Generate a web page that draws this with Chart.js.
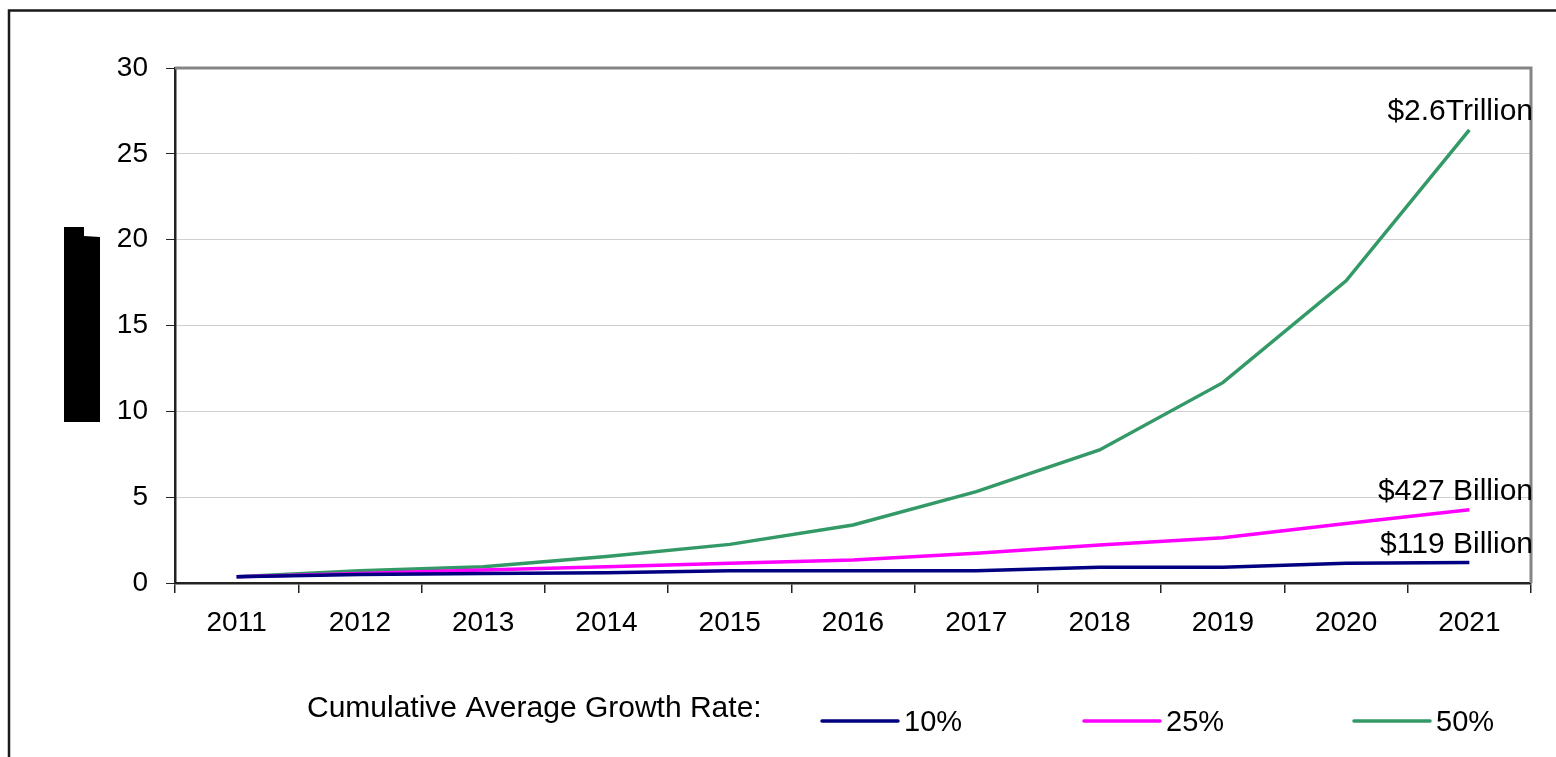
<!DOCTYPE html>
<html>
<head>
<meta charset="utf-8">
<title>Cumulative Average Growth Rate</title>
<script src="https://cdn.jsdelivr.net/npm/chart.js@4/dist/chart.umd.min.js"></script>
<style>
  html, body { margin: 0; padding: 0; background: #ffffff; }
  canvas { display: block; }
</style>
</head>
<body>
<canvas id="growthChart" width="1556" height="757"></canvas>
<script>
const years = ['2011', '2012', '2013', '2014', '2015', '2016', '2017', '2018', '2019', '2020', '2021'];
const yTicks = [0, 5, 10, 15, 20, 25, 30];

const rateLabels = ['10%', '25%', '50%'];
const rate10 = [0.37, 0.5, 0.56, 0.6, 0.72, 0.72, 0.72, 0.92, 0.92, 1.15, 1.19];
const rate25 = [0.37, 0.56, 0.76, 0.95, 1.15, 1.34, 1.73, 2.22, 2.64, 3.46, 4.27];
const rate50 = [0.37, 0.72, 0.95, 1.55, 2.25, 3.38, 5.32, 7.75, 11.67, 17.6, 26.4];
const endLabels = ['$119 Billion', '$427 Billion', '$2.6Trillion'];
const legendTitle = 'Cumulative Average Growth Rate:';

const lineColors = ['#000080', '#ff00ff', '#339966'];
const FONT = '"Liberation Sans", Arial, sans-serif';

// frame, background and the dark block left of the y axis
const backdrop = {
    id: 'backdrop',
    beforeDraw(chart) {
        const ctx = chart.ctx;
        ctx.save();
        ctx.fillStyle = '#ffffff';
        ctx.fillRect(0, 0, chart.width, chart.height);

        ctx.strokeStyle = '#1a1a1a';
        ctx.lineWidth = 2.5;
        ctx.beginPath();
        ctx.moveTo(9, chart.height);
        ctx.lineTo(9, 10.5);
        ctx.lineTo(chart.width, 10.5);
        ctx.stroke();

        ctx.fillStyle = '#000000';
        ctx.beginPath();
        ctx.moveTo(64, 227);
        ctx.lineTo(84, 227);
        ctx.lineTo(84, 236);
        ctx.lineTo(100, 237);
        ctx.lineTo(100, 422);
        ctx.lineTo(64, 422);
        ctx.closePath();
        ctx.fill();
        ctx.restore();
    }
};

// gray top/right edge of the plot, end-of-line labels and the bottom legend
const decorations = {
    id: 'decorations',
    afterDatasetsDraw(chart) {
        const ctx = chart.ctx;
        const area = chart.chartArea;
        ctx.save();

        ctx.strokeStyle = '#858585';
        ctx.lineWidth = 3;
        ctx.beginPath();
        ctx.moveTo(area.left, area.top);
        ctx.lineTo(area.right, area.top);
        ctx.lineTo(area.right, area.bottom);
        ctx.stroke();

        ctx.fillStyle = '#000000';
        ctx.font = '30px ' + FONT;
        ctx.textAlign = 'right';
        ctx.textBaseline = 'alphabetic';
        chart.data.datasets.forEach((ds, i) => {
            const meta = chart.getDatasetMeta(i);
            const last = meta.data[meta.data.length - 1];
            ctx.fillText(endLabels[i], area.right + 2, last.y - 10);
        });

        // legend row
        ctx.textAlign = 'left';
        ctx.font = '30px ' + FONT;
        ctx.fillText(legendTitle, 307, 717);

        ctx.font = '29px ' + FONT;
        const starts = [822, 1084, 1354];
        chart.data.datasets.forEach((ds, i) => {
            const x = starts[i];
            ctx.strokeStyle = ds.borderColor;
            ctx.lineWidth = 3.5;
            ctx.lineCap = 'round';
            ctx.beginPath();
            ctx.moveTo(x, 721);
            ctx.lineTo(x + 76, 721);
            ctx.stroke();
            ctx.fillText(ds.label, x + 82, 731);
        });
        ctx.restore();
    }
};

const seriesValues = [rate10, rate25, rate50];

new Chart(document.getElementById('growthChart'), {
    type: 'line',
    data: {
        labels: years,
        datasets: seriesValues.map((values, i) => ({
            label: rateLabels[i],
            data: values,
            borderColor: lineColors[i],
            backgroundColor: lineColors[i],
            borderWidth: 3.5,
            pointRadius: 0,
            tension: 0,
            fill: false
        }))
    },
    options: {
        responsive: false,
        animation: false,
        layout: { padding: { top: 68, right: 25, left: 0, bottom: 0 } },
        plugins: {
            legend: { display: false },
            tooltip: { enabled: false }
        },
        scales: {
            x: {
                offset: true,
                afterFit(scale) { scale.height = 174; },
                border: { color: '#222222', width: 2.5 },
                grid: {
                    offset: true,
                    drawOnChartArea: false,
                    drawTicks: true,
                    tickLength: 10,
                    color: '#222222',
                    lineWidth: 1.5
                },
                ticks: {
                    color: '#000000',
                    padding: 13,
                    maxRotation: 0,
                    font: { family: FONT, size: 28 }
                }
            },
            y: {
                min: 0,
                max: 30,
                afterFit(scale) { scale.width = 175; },
                afterBuildTicks(scale) { scale.ticks = yTicks.map(v => ({ value: v })); },
                border: { color: '#222222', width: 2.5 },
                grid: {
                    color: '#cfcfcf',
                    lineWidth: 1,
                    drawTicks: true,
                    tickLength: 9,
                    tickColor: '#222222'
                },
                ticks: {
                    color: '#000000',
                    padding: 18,
                    font: { family: FONT, size: 28 }
                }
            }
        }
    },
    plugins: [backdrop, decorations]
});
</script>
</body>
</html>
